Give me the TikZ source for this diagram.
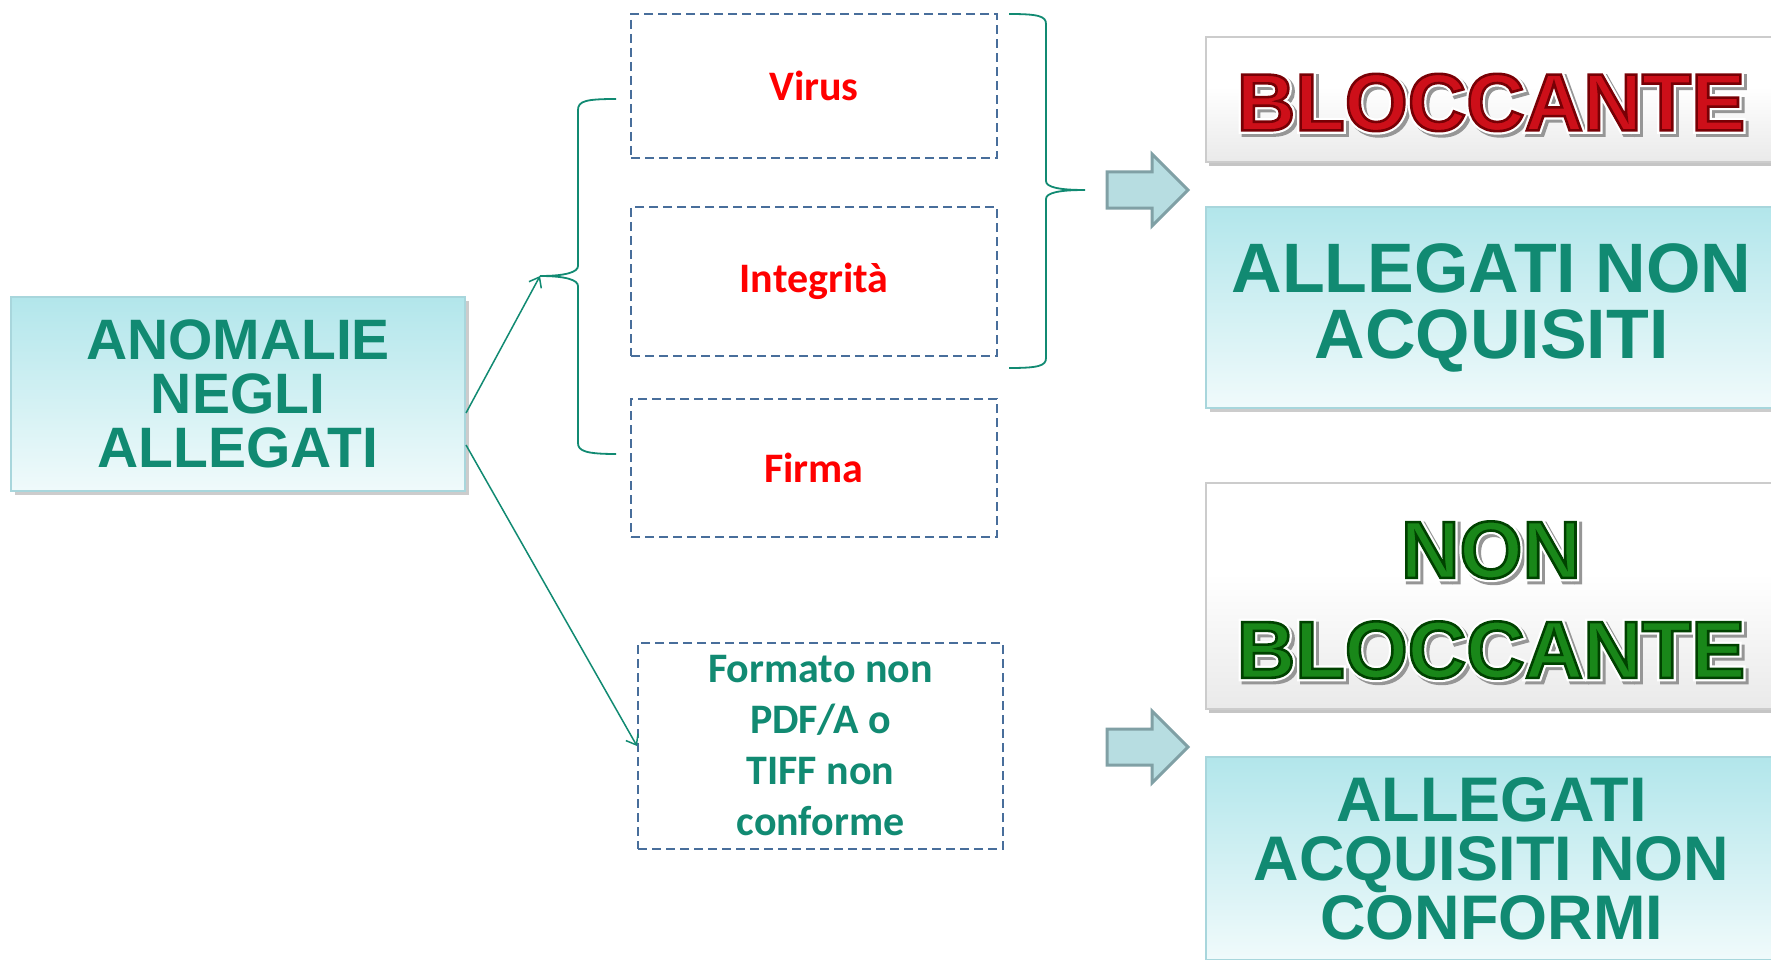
\documentclass[tikz,border=0pt]{standalone}
\usepackage{fontspec}
\setmainfont{Liberation Sans}
\newfontfamily\carlito{Carlito}
\usetikzlibrary{shadows,arrows.meta,calc}
\definecolor{teal1}{RGB}{17,138,114}
\definecolor{dashblue}{RGB}{72,110,155}
\definecolor{boxtop}{RGB}{178,230,235}
\definecolor{boxbot}{RGB}{240,250,251}
\definecolor{boxline}{RGB}{168,214,220}
\definecolor{arrfill}{RGB}{183,221,225}
\definecolor{arrline}{RGB}{128,160,165}
\definecolor{redtxt}{RGB}{255,0,0}
\definecolor{bred}{RGB}{205,15,25}
\definecolor{bgreen}{RGB}{25,135,25}
\definecolor{shadowgray}{RGB}{150,150,150}
\pgfdeclareverticalshading{btnshade}{100bp}{color(0bp)=(gray!50); color(5bp)=(gray!28); color(30bp)=(gray!14); color(55bp)=(white); color(96bp)=(white); color(100bp)=(gray!15)}
% #1 stroke colour (pdf rgb), #2 render mode, #3 stroke width
\newcommand{\strokeon}[3]{\special{pdf:literal direct #1 RG #2 Tr #3 w}}
\newcommand{\strokeoff}{\special{pdf:literal direct 0 Tr}}
\begin{document}
\begin{tikzpicture}[x=1pt,y=-1pt,
  tealbox/.style={draw=boxline, line width=2pt, top color=boxtop, bottom color=boxbot,
    drop shadow={opacity=0.4, shadow xshift=4pt, shadow yshift=-4pt},
    inner sep=0pt, text=teal1, align=center},
  dbox/.style={draw=dashblue, line width=2pt, dash pattern=on 9pt off 5pt,
    minimum width=366pt, inner sep=0pt, align=center,
    font=\carlito\bfseries\fontsize{42}{51}\selectfont},
  btn/.style={draw=gray!40, line width=1.5pt, shading=btnshade,
    drop shadow={opacity=0.45, shadow xshift=3pt, shadow yshift=-4pt}, inner sep=0pt},
  btntxt/.style={inner sep=0pt, align=center, font=\bfseries\fontsize{81}{100}\selectfont},
  brace/.style={draw=teal1, line width=1.8pt},
  conn/.style={draw=teal1, line width=1.5pt, -{Straight Barb[length=9pt,width=14pt]}},
  blockarrow/.style={draw=arrline, fill=arrfill, line width=3pt, line join=miter}
]
\useasboundingbox (0,0) rectangle (1771,960);
\fill[white] (0,0) rectangle (1771,960);

% left main box
\node[tealbox, minimum width=454pt, minimum height=194pt,
  font=\bfseries\fontsize{57}{54}\selectfont] (anom) at (238,394) {ANOMALIE\\NEGLI\\ALLEGATI};

% dashed boxes
\node[dbox, minimum height=144pt, text=redtxt] (virus) at (814,86) {Virus};
\node[dbox, minimum height=149pt, text=redtxt] (integ) at (814,281.5) {Integrità};
\node[dbox, minimum height=138pt, text=redtxt] (firma) at (814,468) {Firma};
\node[dbox, minimum width=365pt, minimum height=206pt, text=teal1] (form) at (820.5,746)
  {Formato non\\PDF/A o\\TIFF non\\conforme};

% braces
\coordinate (lb) at (540,276);
\coordinate (rb) at (1085,190);
\draw[brace] (616,99) .. controls (586,99) and (578,101) .. (578,110) -- (578,266)
  .. controls (578,272) and (566,276) .. (lb)
  .. controls (566,276) and (578,280) .. (578,286) -- (578,443)
  .. controls (578,451) and (586,454) .. (616,454);
\draw[brace] (1009,14) .. controls (1038,14) and (1046,16) .. (1046,24) -- (1046,181)
  .. controls (1046,187) and (1058,190) .. (rb)
  .. controls (1058,190) and (1046,193) .. (1046,199) -- (1046,358)
  .. controls (1046,366) and (1038,368) .. (1009,368);

% connectors
\draw[conn] ($(anom.east)+(0,19)$) -- (lb);
\draw[conn] ($(anom.east)+(0,51)$) -- (form.west);

% block arrows
\draw[blockarrow] (1107,172) -- (1152,172) -- (1152,154) -- (1188,190) -- (1152,226) -- (1152,208) -- (1107,208) -- cycle;
\draw[blockarrow] (1107,729) -- (1152,729) -- (1152,711) -- (1188,747) -- (1152,783) -- (1152,765) -- (1107,765) -- cycle;

% buttons
\node[btn, minimum width=571pt, minimum height=125pt] (blk) at (1491.5,99.5) {};
\node[btn, minimum width=571pt, minimum height=226pt] (nblk) at (1491.5,596) {};

% BLOCCANTE: shadow, halo, face
\node[btntxt, text=shadowgray] (blks) at (1494,105.5)
  {\strokeon{0.59 0.59 0.59}{2}{7}BLOCCANTE\strokeoff};
\node[btntxt, text=white] (blkh) at (1491,102.5)
  {\strokeon{1 1 1}{2}{7}BLOCCANTE\strokeoff};
\node[btntxt, text=bred] (blkt) at (1491,102.5)
  {\strokeon{0.47 0 0.02}{2}{2.6}BLOCCANTE\strokeoff};

% NON BLOCCANTE: shadow, halo, face
\node[btntxt, text=shadowgray] (nblks) at (1494,603)
  {\strokeon{0.59 0.59 0.59}{2}{7}NON\strokeoff\\\strokeon{0.59 0.59 0.59}{2}{7}BLOCCANTE\strokeoff};
\node[btntxt, text=white] (nblkh) at (1491,600)
  {\strokeon{1 1 1}{2}{7}NON\strokeoff\\\strokeon{1 1 1}{2}{7}BLOCCANTE\strokeoff};
\node[btntxt, text=bgreen] (nblkt) at (1491,600)
  {\strokeon{0 0.26 0}{2}{2.6}NON\strokeoff\\\strokeon{0 0.26 0}{2}{2.6}BLOCCANTE\strokeoff};

% right teal boxes
\node[tealbox, minimum width=571pt, minimum height=201pt,
  font=\bfseries\fontsize{70}{66}\selectfont] (nonacq) at (1491.5,307.5) {ALLEGATI NON\\ACQUISITI};
\node[tealbox, minimum width=571pt, minimum height=203pt,
  font=\bfseries\fontsize{63}{59}\selectfont] (acqnc) at (1491.5,858.5) {ALLEGATI\\ACQUISITI NON\\CONFORMI};
\end{tikzpicture}
\end{document}
